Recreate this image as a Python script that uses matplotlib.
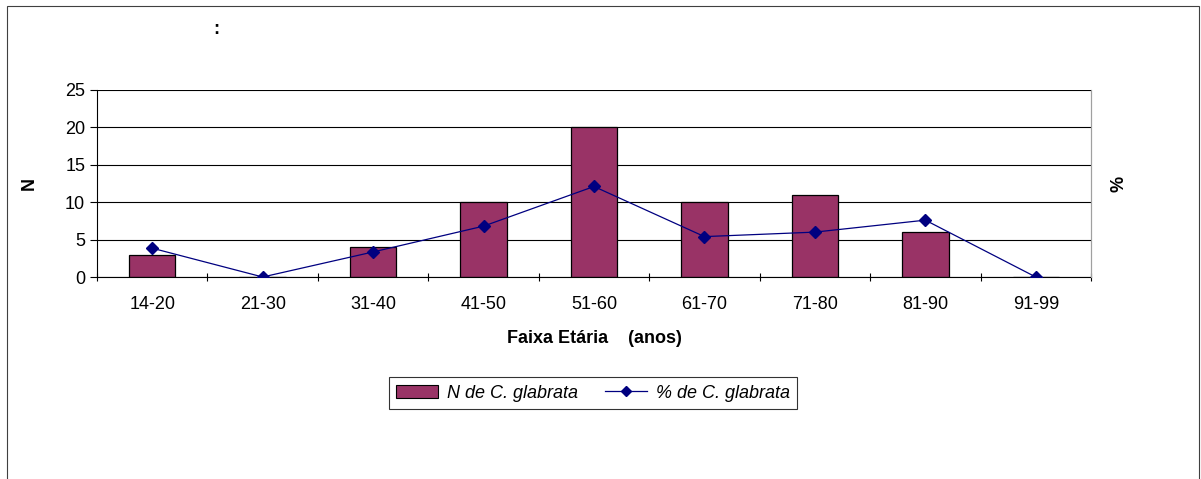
import matplotlib.pyplot as plt
import numpy as np
from matplotlib.patches import Rectangle
from matplotlib.lines import Line2D

plt.rcParams['font.family'] = ['Liberation Sans', 'DejaVu Sans']

faixas = ['14-20', '21-30', '31-40', '41-50', '51-60', '61-70', '71-80', '81-90', '91-99']
n_glabrata = [3, 0, 4, 10, 20, 10, 11, 6, 0]
pct_glabrata = [3.85, 0, 3.35, 6.8, 12.1, 5.4, 6.0, 7.6, 0]

x = np.arange(len(faixas))
fs = 13

fig = plt.figure(figsize=(12.01, 4.79), dpi=100)
ax = fig.add_axes([97/1201, 1 - 277/479, (1091 - 97)/1201, (277 - 90)/479])

ax.bar(x, n_glabrata, width=0.42, color='#993366', edgecolor='black', linewidth=0.9, zorder=2)
ax.set_xlim(-0.5, len(faixas) - 0.5)
ax.set_ylim(0, 25)
ax.set_yticks([0, 5, 10, 15, 20, 25])
ax.yaxis.grid(True, color='black', linewidth=0.8, zorder=0)
ax.set_axisbelow(True)
ax.set_xticks(x)
ax.set_xticklabels(faixas, fontsize=fs)
ax.tick_params(axis='x', length=0, pad=14)
ax.set_xticks(np.arange(len(faixas) + 1) - 0.5, minor=True)
ax.tick_params(axis='x', which='minor', length=6, direction='inout', width=0.8)
ax.tick_params(axis='y', labelsize=fs, length=5, width=0.8)
ax.spines['top'].set_visible(False)
ax.spines['right'].set_color('#a0a0a0')
ax.spines['left'].set_linewidth(0.8)
ax.spines['bottom'].set_linewidth(0.8)
ax.set_ylabel('N', fontsize=fs, fontweight='bold', labelpad=20)
ax.set_xlabel('Faixa Etária    (anos)', fontsize=fs, fontweight='bold', labelpad=12)

ax2 = ax.twinx()
ax2.plot(x, pct_glabrata, color='#000080', linewidth=0.9, marker='D', markersize=6, zorder=3)
ax2.set_ylim(0, 25)
ax2.set_yticks([])
for s in ['top', 'left', 'bottom']:
    ax2.spines[s].set_visible(False)
ax2.spines['right'].set_color('#a0a0a0')
ax2.set_ylabel('%', fontsize=fs, fontweight='bold', labelpad=14)

fig.text(216/1201, 1 - 30/479, ':', fontsize=fs, fontweight='bold', ha='center', va='center')

handles = [Rectangle((0, 0), 1, 1, facecolor='#993366', edgecolor='black', linewidth=0.8),
           Line2D([0], [0], color='#000080', linewidth=0.9, marker='D', markersize=5)]
leg = fig.legend(handles, ['N de C. glabrata', '% de C. glabrata'], loc='center',
                 bbox_to_anchor=(593/1201, 1 - 393/479), ncol=2, frameon=True,
                 fancybox=False, edgecolor='black', prop={'style': 'italic', 'size': fs},
                 handlelength=2.3, handletextpad=0.5, columnspacing=1.5, borderpad=0.4)
leg.get_frame().set_linewidth(0.8)

fig.patches.append(Rectangle((7/1201, -0.05), (1199 - 7)/1201, 1.05 - 6/479,
                             transform=fig.transFigure, fill=False, edgecolor='#404040', linewidth=0.8))

fig.savefig('out.png', dpi=100)
